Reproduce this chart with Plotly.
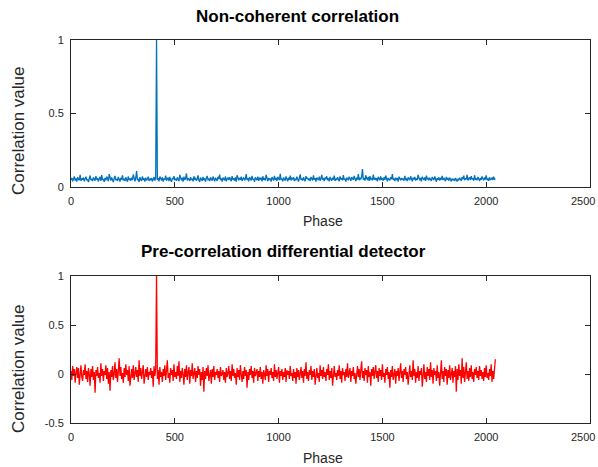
import plotly.graph_objects as go

# Phase samples (every 4th phase, 0..2044)
phase = list(range(0, 2048, 4))

noncoherent = [
0.048,0.061,0.039,0.055,0.072,0.044,0.058,0.036,0.067,0.051,0.046,0.083,0.041,0.059,0.049,0.064,
0.038,0.057,0.070,0.045,0.052,0.034,0.063,0.078,0.047,0.055,0.040,0.066,0.053,0.043,0.074,0.050,
0.060,0.037,0.056,0.069,0.042,0.081,0.048,0.054,0.035,0.062,0.046,0.071,0.058,0.039,0.088,0.052,
0.044,0.065,0.049,0.033,0.059,0.076,0.047,0.055,0.041,0.068,0.053,0.037,0.062,0.050,0.079,0.045,
0.057,0.040,0.066,0.051,0.036,0.072,0.049,0.058,0.043,0.064,0.047,0.085,0.052,0.038,0.061,0.109,
0.046,0.055,0.034,0.067,0.050,0.042,0.073,0.048,0.059,0.037,0.063,0.045,0.054,0.070,0.041,0.056,
0.049,0.062,0.038,0.053,0.068,0.044,0.057,1.000,0.047,0.060,0.039,0.071,0.052,0.045,0.066,0.036,
0.058,0.050,0.077,0.043,0.055,0.064,0.040,0.069,0.048,0.035,0.061,0.053,0.074,0.046,0.057,0.042,
0.066,0.051,0.039,0.082,0.054,0.045,0.063,0.037,0.070,0.049,0.058,0.092,0.044,0.060,0.052,0.041,
0.067,0.048,0.056,0.038,0.073,0.050,0.062,0.043,0.055,0.079,0.046,0.035,0.064,0.053,0.041,0.069,
0.047,0.058,0.036,0.061,0.075,0.049,0.054,0.040,0.066,0.052,0.044,0.071,0.057,0.038,0.063,0.050,
0.042,0.069,0.055,0.084,0.047,0.059,0.036,0.064,0.051,0.045,0.072,0.039,0.056,0.062,0.048,0.067,
0.053,0.040,0.074,0.050,0.058,0.043,0.065,0.037,0.080,0.052,0.046,0.061,0.049,0.070,0.041,0.057,
0.063,0.045,0.055,0.088,0.048,0.060,0.039,0.068,0.052,0.044,0.076,0.050,0.057,0.035,0.066,0.054,
0.047,0.071,0.042,0.059,0.053,0.064,0.038,0.073,0.049,0.056,0.045,0.082,0.051,0.040,0.062,0.048,
0.058,0.036,0.067,0.052,0.044,0.075,0.050,0.061,0.041,0.069,0.055,0.046,0.090,0.048,0.057,0.039,
0.065,0.051,0.043,0.072,0.054,0.038,0.063,0.049,0.078,0.045,0.059,0.052,0.067,0.040,0.056,0.047,
0.070,0.053,0.037,0.061,0.086,0.048,0.057,0.044,0.066,0.050,0.039,0.074,0.055,0.062,0.046,0.058,
0.041,0.068,0.052,0.045,0.079,0.049,0.060,0.036,0.064,0.054,0.047,0.071,0.043,0.058,0.083,0.050,
0.056,0.040,0.065,0.052,0.073,0.046,0.059,0.038,0.069,0.053,0.044,0.062,0.050,0.077,0.041,0.057,
0.048,0.066,0.055,0.039,0.072,0.051,0.060,0.045,0.081,0.049,0.057,0.037,0.064,0.053,0.046,0.070,
0.058,0.042,0.067,0.052,0.048,0.076,0.055,0.040,0.063,0.050,0.088,0.046,0.059,0.054,0.071,0.122,
0.049,0.062,0.044,0.080,0.056,0.051,0.068,0.041,0.074,0.053,0.058,0.045,0.085,0.050,0.063,0.047,
0.060,0.039,0.069,0.054,0.046,0.072,0.052,0.057,0.043,0.066,0.049,0.078,0.055,0.038,0.061,0.050,
0.045,0.067,0.053,0.088,0.048,0.059,0.041,0.064,0.051,0.056,0.037,0.070,0.054,0.046,0.062,0.049,
0.058,0.043,0.075,0.050,0.055,0.040,0.066,0.052,0.047,0.073,0.056,0.039,0.063,0.051,0.068,0.044,
0.057,0.049,0.082,0.053,0.045,0.061,0.038,0.070,0.054,0.048,0.065,0.042,0.077,0.052,0.059,0.046,
0.063,0.050,0.041,0.068,0.055,0.047,0.072,0.053,0.036,0.060,0.049,0.066,0.044,0.058,0.051,0.075,
0.047,0.062,0.054,0.040,0.069,0.050,0.057,0.043,0.064,0.052,0.038,0.058,0.046,0.055,0.041,0.061,
0.049,0.037,0.056,0.045,0.063,0.050,0.042,0.067,0.053,0.078,0.046,0.060,0.051,0.083,0.044,0.057,
0.065,0.048,0.074,0.052,0.059,0.043,0.080,0.050,0.056,0.047,0.069,0.054,0.041,0.062,0.049,0.072,
0.053,0.045,0.064,0.051,0.079,0.047,0.058,0.042,0.066,0.050,0.055,0.061,0.048,0.070,0.052,0.058,
]

differential = [
0.03,-0.06,0.08,-0.02,0.05,-0.09,0.01,0.07,-0.04,0.06,-0.11,0.02,0.09,-0.03,-0.07,0.04,
-0.01,0.10,-0.05,0.03,-0.08,0.06,0.00,-0.12,0.05,-0.03,0.08,-0.06,0.02,-0.19,0.04,-0.02,
0.07,-0.04,0.01,-0.09,0.11,-0.02,0.05,-0.07,0.03,-0.01,0.09,-0.05,0.06,-0.10,0.02,-0.17,
0.04,-0.03,0.08,-0.06,0.00,0.12,-0.04,0.05,-0.08,0.03,0.16,-0.02,0.07,-0.05,0.01,-0.09,
0.06,-0.03,0.10,-0.01,0.04,-0.07,0.08,-0.12,0.02,0.05,-0.04,0.09,-0.06,0.01,0.07,-0.03,
0.04,-0.08,0.14,-0.02,0.06,-0.05,0.03,0.09,-0.10,0.01,0.05,-0.03,0.07,-0.06,0.02,-0.01,
0.06,-0.04,0.03,-0.13,0.08,-0.02,0.05,1.00,-0.05,0.04,-0.11,0.07,-0.03,0.02,-0.08,0.05,
-0.02,0.09,-0.06,0.03,0.14,-0.04,0.01,-0.09,0.06,-0.01,0.04,-0.07,0.10,-0.03,0.02,-0.05,
0.08,-0.02,0.13,-0.08,0.03,-0.04,0.06,0.00,-0.11,0.05,-0.03,0.09,-0.06,0.02,0.07,-0.10,
0.04,-0.02,0.11,-0.05,0.01,0.06,-0.08,0.03,-0.04,0.08,-0.01,0.05,-0.12,0.02,-0.06,0.07,
-0.18,0.03,-0.05,0.06,-0.02,0.09,-0.07,0.01,0.04,-0.10,0.05,-0.03,0.08,-0.06,0.02,-0.01,
0.05,-0.04,0.03,-0.08,0.07,-0.02,0.00,0.04,-0.06,0.02,-0.09,0.06,-0.03,0.01,0.08,-0.05,
0.03,-0.07,0.10,-0.02,0.05,-0.04,0.01,-0.11,0.06,-0.03,0.04,-0.06,0.09,0.00,-0.08,0.03,
-0.05,0.07,-0.02,0.04,-0.14,0.02,-0.06,0.05,-0.01,0.08,-0.04,0.03,-0.09,0.06,-0.02,0.01,
0.05,-0.07,0.03,-0.03,0.07,-0.05,0.02,-0.10,0.04,0.00,-0.06,0.09,-0.02,0.05,-0.08,0.03,
-0.01,0.06,-0.04,0.02,-0.07,0.10,-0.03,0.04,-0.05,0.01,0.07,-0.09,0.03,-0.02,0.05,-0.06,
0.02,-0.03,0.06,-0.08,0.04,-0.01,0.03,-0.05,0.08,-0.02,0.01,-0.07,0.05,-0.04,0.02,-0.10,
0.06,-0.03,0.04,-0.06,0.01,0.07,-0.04,0.03,-0.09,0.05,-0.02,0.12,-0.05,0.02,-0.07,0.04,
-0.01,0.08,-0.06,0.03,-0.03,0.05,-0.11,0.02,0.06,-0.04,0.01,-0.08,0.09,-0.02,0.04,-0.05,
0.07,-0.03,0.02,-0.07,0.05,-0.01,0.10,-0.06,0.03,-0.04,0.06,-0.12,0.02,0.08,-0.03,0.01,
-0.06,0.04,-0.02,0.09,-0.05,0.03,-0.09,0.06,-0.01,0.02,-0.07,0.05,-0.03,0.11,-0.04,0.02,
0.06,-0.08,0.03,-0.02,0.07,-0.05,0.01,-0.10,0.04,0.08,-0.03,0.05,-0.06,0.02,0.13,-0.04,
0.03,-0.07,0.06,-0.01,0.04,-0.09,0.08,-0.03,0.02,-0.12,0.05,-0.02,0.07,-0.05,0.01,0.09,
-0.04,0.03,-0.08,0.06,-0.02,0.04,-0.06,0.10,-0.03,0.01,-0.09,0.05,-0.01,0.07,-0.05,0.02,
-0.14,0.04,-0.03,0.08,-0.06,0.02,0.05,-0.10,0.03,-0.02,0.06,-0.07,0.01,0.11,-0.04,0.03,
-0.08,0.05,-0.01,0.07,-0.05,0.02,-0.11,0.04,0.09,-0.03,0.03,-0.06,0.14,-0.02,0.05,-0.09,
0.02,-0.04,0.08,-0.07,0.03,-0.01,0.06,-0.13,0.04,0.10,-0.05,0.02,-0.08,0.07,-0.02,0.05,
-0.06,0.12,-0.03,0.04,-0.10,0.06,-0.01,0.03,-0.07,0.09,-0.04,0.02,-0.12,0.05,0.14,-0.05,
0.03,-0.08,0.07,-0.02,0.05,-0.11,0.04,-0.04,0.09,-0.06,0.01,0.06,-0.09,0.03,-0.03,0.08,
-0.18,0.05,-0.06,0.10,-0.02,0.04,-0.10,0.16,-0.04,0.07,-0.08,0.02,0.12,-0.05,0.03,-0.07,
0.06,-0.03,0.09,-0.05,0.02,-0.08,0.05,-0.01,0.07,-0.04,0.03,-0.06,0.08,-0.02,0.04,-0.05,
0.02,-0.07,0.06,-0.03,0.09,-0.04,0.01,-0.06,0.05,-0.02,0.10,-0.08,0.03,-0.05,0.04,0.15,
]

titles = ["Non-coherent correlation", "Pre-correlation differential detector"]
x_label = "Phase"
y_label = "Correlation value"
x_ticks = [0, 500, 1000, 1500, 2000, 2500]
x_ticktext = ["0", "500", "1000", "1500", "2000", "2500"]
y1_ticks = [0, 0.5, 1]
y1_ticktext = ["0", "0.5", "1"]
y2_ticks = [-0.5, 0, 0.5, 1]
y2_ticktext = ["-0.5", "0", "0.5", "1"]

W, H = 598, 467
AX = "#262626"
FONT = "Liberation Sans, Arial, sans-serif"
TICKFONT = dict(size=11, color=AX, family=FONT)

def px_x(p):
    return p / W

def px_y(p):
    return 1 - p / H

# the last x label is drawn as an annotation right-aligned at its tick so it stays inside
x_labels_axis = x_ticktext[:-1] + [""]

fig = go.Figure()
fig.add_trace(go.Scatter(x=phase, y=noncoherent, mode="lines",
                         line=dict(color="#0072BD", width=1.3), xaxis="x", yaxis="y",
                         showlegend=False, hoverinfo="skip"))
fig.add_trace(go.Scatter(x=phase, y=differential, mode="lines",
                         line=dict(color="#FF0000", width=1.3), xaxis="x2", yaxis="y2",
                         showlegend=False, hoverinfo="skip"))

xdom = [px_x(71), px_x(590)]
common_x = dict(range=[0, 2500], tickvals=x_ticks, ticktext=x_labels_axis,
                ticks="inside", ticklen=5,
                tickcolor=AX, showline=True, linecolor=AX, linewidth=1, mirror="allticks",
                showgrid=False, zeroline=False, tickfont=TICKFONT,
                domain=xdom, automargin=False, ticklabelstandoff=4)
common_y = dict(ticks="inside", ticklen=5, tickcolor=AX, showline=True, linecolor=AX,
                linewidth=1, mirror="allticks", showgrid=False, zeroline=False,
                tickfont=TICKFONT, automargin=False, ticklabelstandoff=4)

fig.update_layout(
    width=W, height=H, margin=dict(l=0, r=0, t=0, b=0),
    paper_bgcolor="white", plot_bgcolor="white",
    font=dict(family=FONT, color=AX),
    xaxis=dict(**common_x, anchor="y"),
    yaxis=dict(**common_y, range=[0, 1], tickvals=y1_ticks, ticktext=y1_ticktext,
               domain=[px_y(187), px_y(40)], anchor="x"),
    xaxis2=dict(**common_x, anchor="y2"),
    yaxis2=dict(**common_y, range=[-0.5, 1], tickvals=y2_ticks, ticktext=y2_ticktext,
                domain=[px_y(423), px_y(276)], anchor="x2"),
)

ann = []
for t, (tx, ty) in zip(titles, [(297, 16), (283, 252)]):
    ann.append(dict(text="<b>%s</b>" % t, x=px_x(tx), y=px_y(ty), xref="paper", yref="paper",
                    showarrow=False, xanchor="center", yanchor="middle",
                    font=dict(size=17, color="black", family=FONT)))
for yy in (221, 458):
    ann.append(dict(text=x_label, x=px_x(323), y=px_y(yy), xref="paper", yref="paper",
                    showarrow=False, xanchor="center", yanchor="middle",
                    font=dict(size=14, color=AX, family=FONT)))
for yy in (131, 369):
    ann.append(dict(text=y_label, x=px_x(18), y=px_y(yy), xref="paper", yref="paper",
                    showarrow=False, xanchor="center", yanchor="middle", textangle=-90,
                    font=dict(size=17, color=AX, family=FONT)))
for xr, yy in (("x", 201), ("x2", 437)):
    ann.append(dict(text=x_ticktext[-1], x=x_ticks[-1], xref=xr, y=px_y(yy), yref="paper",
                    showarrow=False, xanchor="right", yanchor="middle", xshift=7,
                    font=TICKFONT))
fig.update_layout(annotations=ann)

fig.write_html("out.html")
